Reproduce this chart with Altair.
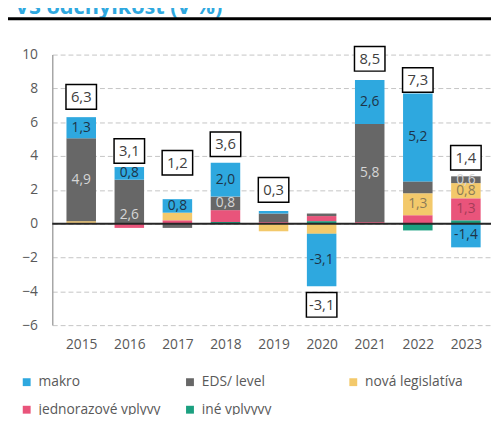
import altair as alt
import pandas as pd

# ---------------- data ----------------
years = [2015, 2016, 2017, 2018, 2019, 2020, 2021, 2022, 2023]
series = ["makro", "EDS/ level", "nová legislatíva", "jednorazové vplyvy", "iné vplvyvy"]

makro = [1.25, 0.75, 0.8, 2.0, 0.15, -3.1, 2.6, 5.2, -1.4]
eds = [4.9, 2.6, -0.25, 0.8, 0.5, 0.15, 5.8, 0.7, 0.4]
legis = [0.1, 0.0, 0.45, 0.0, -0.45, -0.6, 0.0, 1.3, 0.9]
jedn = [0.05, -0.25, 0.2, 0.7, 0.05, 0.3, 0.05, 0.5, 1.3]
ine = [0.0, 0.0, 0.0, 0.1, 0.05, 0.15, 0.05, -0.4, 0.2]

makro_lbl = ["1,3", "0,8", "0,8", "2,0", "", "-3,1", "2,6", "5,2", "-1,4"]
eds_lbl = ["4,9", "2,6", "", "0,8", "", "", "5,8", "", "0,6"]
legis_lbl = ["", "", "", "", "", "", "", "1,3", "0,8"]
jedn_lbl = ["", "", "", "", "", "", "", "", "1,3"]
ine_lbl = ["", "", "", "", "", "", "", "", ""]

# where inside its segment each value label sits (0 = base, 1 = end)
eds_lbl_pos = [0.5, 0.2, 0.5, 0.5, 0.5, 0.5, 0.5, 0.5, 0.5]

total_lbl = ["6,3", "3,1", "1,2", "3,6", "0,3", "-3,1", "8,5", "7,3", "1,4"]
total_lbl_y = [7.5, 4.3, 3.6, 4.7, 2.0, -4.8, 9.75, 8.5, 3.9]

y_ticks = [-6, -4, -2, 0, 2, 4, 6, 8, 10]

title_text = "VS odchýlkosť (v %)"

# legend is filled column by column (2 rows x 3 columns)
legend_order = ["makro", "jednorazové vplyvy", "EDS/ level", "iné vplvyvy", "nová legislatíva"]

# ---------------- styles ----------------
colors = {"makro": "#2ea8df", "EDS/ level": "#676767", "nová legislatíva": "#f3c96b",
          "jednorazové vplyvy": "#e9547b", "iné vplvyvy": "#1ba080"}
label_colors = {"makro": "#1d3448", "EDS/ level": "#d6d6d6", "nová legislatíva": "#8c7c58",
                "jednorazové vplyvy": "#a53c58", "iné vplvyvy": "#ffffff"}
FONT = "Open Sans"
W, H = 446, 275

# stacking order bottom -> top
stack = [("iné vplvyvy", ine, ine_lbl, [0.5] * 9),
         ("jednorazové vplyvy", jedn, jedn_lbl, [0.5] * 9),
         ("nová legislatíva", legis, legis_lbl, [0.5] * 9),
         ("EDS/ level", eds, eds_lbl, eds_lbl_pos),
         ("makro", makro, makro_lbl, [0.5] * 9)]

rows = []
for i, yr in enumerate(years):
    pos, neg = 0.0, 0.0
    for name, vals, lbls, lpos in stack:
        v = vals[i]
        if v == 0:
            continue
        if v > 0:
            y0, y1 = pos, pos + v
            pos = y1
        else:
            y0, y1 = neg, neg + v
            neg = y1
        rows.append({"year": yr, "series": name, "ya": y0, "yb": y1,
                     "ylab": y0 + (y1 - y0) * lpos[i], "lbl": lbls[i],
                     "lcol": label_colors[name]})
df = pd.DataFrame(rows)
df_lbl = df[df["lbl"] != ""].drop(columns=["ya"]).rename(columns={"ylab": "ya"})

df_tot = pd.DataFrame({"year": years, "lbl": total_lbl, "ya": total_lbl_y})
df_zero = pd.DataFrame({"ya": [0]})

xscale = alt.Scale(domain=[2014.5, 2014.5 + W / 50], nice=False, zero=False)
yscale = alt.Scale(domain=[-6, 10], nice=False)

AX_X = alt.Axis(values=years, format="d", title=None, grid=False, domain=False, ticks=False,
                labelPadding=13, labelFontSize=14, labelColor="#595959", labelFont=FONT,
                labelOverlap=False)
AX_Y = alt.Axis(values=y_ticks, title=None, grid=True, gridColor="#c4c4c4", gridDash=[5, 3],
                gridWidth=1, domain=True, domainColor="#a6a6a6", domainWidth=1.5, ticks=False,
                labelPadding=15, labelFontSize=14, labelColor="#595959", labelFont=FONT,
                labelOverlap=False)

X = alt.X("year:Q", scale=xscale, axis=AX_X)
Y = alt.Y("ya:Q", scale=yscale, axis=AX_Y)

bars = alt.Chart(df).mark_bar(size=30).encode(
    x=X, y=Y, y2="yb:Q",
    color=alt.Color("series:N",
                    scale=alt.Scale(domain=legend_order, range=[colors[s] for s in legend_order]),
                    legend=alt.Legend(orient="none", legendX=-33, legendY=326, columns=3,
                                      gridAlign="all", columnPadding=22, rowPadding=14,
                                      symbolType="square", symbolSize=64, symbolStrokeWidth=0,
                                      labelFontSize=14, labelFont=FONT, labelColor="#595959",
                                      labelOffset=5, title=None)),
)

zero = alt.Chart(df_zero).mark_rule(color="#262626", strokeWidth=2).encode(y=Y)

seg_text = alt.Chart(df_lbl).mark_text(fontSize=14, font=FONT, baseline="middle").encode(
    x=X, y=Y, text="lbl:N",
    color=alt.Color("lcol:N", scale=None, legend=None),
)

box = alt.Chart(df_tot).mark_point(
    shape="M-1,-0.806L1,-0.806L1,0.806L-1,0.806Z", size=961, filled=True,
    fill="white", stroke="black", strokeWidth=1.5, opacity=1).encode(x=X, y=Y)

box_text = alt.Chart(df_tot).mark_text(fontSize=15, font=FONT, color="#404040",
                                       baseline="middle").encode(x=X, y=Y, text="lbl:N")

title = alt.Chart(pd.DataFrame({"t": [title_text]})).mark_text(
    align="left", baseline="alphabetic", fontSize=22, fontWeight="bold",
    color="#2ea8df", font=FONT).encode(x=alt.value(-38), y=alt.value(-41), text="t:N")

top_line = alt.Chart(pd.DataFrame({"a": [0]})).mark_rect(color="black").encode(
    x=alt.value(-45), x2=alt.value(W), y=alt.value(-38), y2=alt.value(-35))

chart = alt.layer(bars, zero, seg_text, box, box_text, title, top_line).properties(
    width=W, height=H,
    autosize=alt.AutoSizeParams(type="none"),
    padding={"left": 45, "top": 44, "right": 0, "bottom": 88},
).configure_view(stroke=None)

chart.save("out.html", embed_options={"renderer": "svg", "actions": False})
